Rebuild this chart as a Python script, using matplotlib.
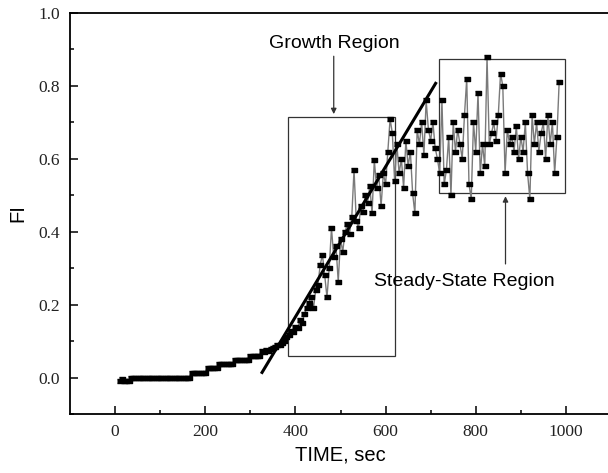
import numpy as np
import matplotlib.pyplot as plt
from matplotlib.patches import Rectangle

# sample times (every 5 s) and fluorescence intensity
time = np.arange(10, 990, 5)

fi_baseline = [-0.010, -0.005, -0.010, -0.010, -0.010, 0.000] + [0.000] * 26   # 10..165
fi_slow = ([0.012] * 7 + [0.025] * 5 + [0.036] * 7 + [0.047] * 7 + [0.058] * 5
           + [0.072, 0.070, 0.075, 0.074, 0.078, 0.080]
           + [0.085, 0.090, 0.088, 0.095, 0.100])                                  # 170..375
fi_growth = [0.110, 0.118, 0.128, 0.125, 0.140, 0.135, 0.158, 0.150, 0.175, 0.190,
             0.205, 0.222, 0.190, 0.240, 0.255, 0.310, 0.336, 0.280, 0.220, 0.300,
             0.410, 0.330, 0.360, 0.263, 0.380, 0.345, 0.400, 0.420, 0.395, 0.440,
             0.570, 0.430, 0.410, 0.470, 0.455, 0.500, 0.480, 0.525, 0.450, 0.597,
             0.520, 0.555, 0.470, 0.560, 0.530, 0.620, 0.710, 0.670, 0.540]        # 380..620
fi_transition = [0.640, 0.560, 0.600, 0.520, 0.650, 0.580, 0.620, 0.505, 0.450, 0.680,
                 0.640, 0.700, 0.610, 0.760, 0.680, 0.650, 0.700, 0.630, 0.600]    # 625..715
fi_steady = [0.560, 0.760, 0.530, 0.570, 0.660, 0.500, 0.700, 0.620, 0.680, 0.640,
             0.600, 0.720, 0.820, 0.530, 0.490, 0.700, 0.620, 0.780, 0.560, 0.640,
             0.580, 0.880, 0.640, 0.670, 0.700, 0.650, 0.720, 0.834, 0.800, 0.560,
             0.680, 0.640, 0.660, 0.620, 0.690, 0.600, 0.660, 0.620, 0.700, 0.560,
             0.490, 0.720, 0.640, 0.700, 0.620, 0.670, 0.700, 0.600, 0.720, 0.640,
             0.700, 0.560, 0.660, 0.810]                                            # 720..985
fi = np.array(fi_baseline + fi_slow + fi_growth + fi_transition + fi_steady)

# linear fit of the growth region (end points)
fit_time = [326, 711]
fit_fi = [0.014, 0.807]

# region boxes: (t0, fi0, t1, fi1)
growth_box = (384, 0.06, 620, 0.715)
steady_box = (718, 0.505, 999, 0.875)

fig = plt.figure(figsize=(6.08, 4.73), dpi=100)
ax = fig.add_axes([70 / 608, 59 / 473, 541 / 608, 401 / 473])

box_marker = [(-1, -0.6), (1, -0.6), (1, 0.6), (-1, 0.6)]
ax.plot(time, fi, color='#7a7a7a', lw=1.0, zorder=2)
ax.plot(time, fi, ls='none', marker=box_marker, ms=5, color='black', zorder=3)
ax.plot(fit_time, fit_fi, color='black', lw=2.2, zorder=4)

for t0, f0, t1, f1 in (growth_box, steady_box):
    ax.add_patch(Rectangle((t0, f0), t1 - t0, f1 - f0, fill=False,
                           ec='#333333', lw=0.9, zorder=1))

sans = 'Liberation Sans'
ax.annotate('', xy=(485, 0.715), xytext=(485, 0.889),
            arrowprops=dict(arrowstyle='-|>', color='#333333', lw=0.9, mutation_scale=8))
ax.text(487, 0.917, 'Growth Region', ha='center', va='center', fontsize=14, family=sans)
ax.annotate('', xy=(866, 0.505), xytext=(866, 0.304),
            arrowprops=dict(arrowstyle='-|>', color='#333333', lw=0.9, mutation_scale=8))
ax.text(775, 0.263, 'Steady-State Region', ha='center', va='center', fontsize=14, family=sans)

ax.set_xlim(-100, 1100)
ax.set_ylim(-0.1, 1.0)
ax.set_xticks([0, 200, 400, 600, 800, 1000])
ax.set_xticks(np.arange(100, 1100, 200), minor=True)
ax.set_yticks([0.0, 0.2, 0.4, 0.6, 0.8, 1.0])
ax.set_yticks([-0.1, 0.1, 0.3, 0.5, 0.7, 0.9], minor=True)
ax.set_yticklabels(['0.0', '0.2', '0.4', '0.6', '0.8', '1.0'])
ax.tick_params(which='both', direction='in', width=1.1, labelsize=12.5, pad=7)
ax.tick_params(which='major', length=6)
ax.tick_params(which='minor', length=3)
for lab in ax.get_xticklabels() + ax.get_yticklabels():
    lab.set_family('Liberation Serif')
    lab.set_color('#222222')
for s in ax.spines.values():
    s.set_linewidth(1.3)
ax.spines['right'].set_visible(False)

ax.set_xlabel('TIME, sec', fontsize=14.5, family=sans, labelpad=4)
ax.set_ylabel('FI', fontsize=14.5, family=sans, labelpad=8)

fig.savefig('out.png', dpi=100)
